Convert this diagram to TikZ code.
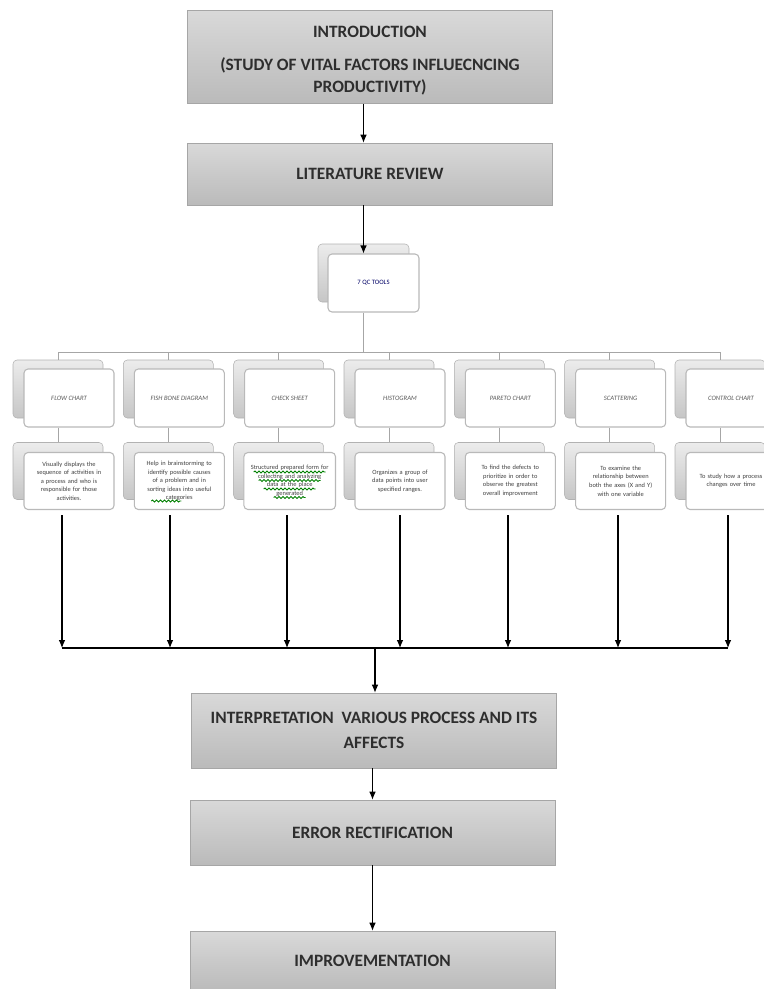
\documentclass[tikz,border=0pt]{standalone}
\usepackage{fontspec}
\setmainfont{Carlito}
\usetikzlibrary{arrows.meta,calc,decorations.pathmorphing}

\tikzset{
        mainbox/.style={draw=gray!70, top color=black!15, bottom color=black!27,
                minimum width=273.75pt, align=center, text=black!82,
                font=\fontsize{13}{16.5}\selectfont\bfseries},
        backbox/.style={draw=gray!60, rounded corners=3pt, top color=gray!15,
                bottom color=gray!45, minimum width=67.5pt, minimum height=43.5pt},
        toolbox/.style={draw=gray!55, line width=0.8pt, rounded corners=3pt, fill=white,
                minimum width=67.5pt, minimum height=43.5pt, text=black!65,
                font=\fontsize{5}{6}\selectfont\itshape},
        descbox/.style={draw=gray!55, line width=0.8pt, rounded corners=3pt, fill=white,
                minimum width=67.5pt, minimum height=42.75pt, text width=52pt, align=center,
                text=black!75, font=\fontsize{4.8}{6.4}\selectfont},
        branch/.style={draw=gray!70, line width=0.6pt},
        flow/.style={line width=0.8pt, -{Latex[length=6pt,width=5pt]}},
        squig/.style={draw=green!50!black, line width=0.7pt, decorate,
                decoration={snake, amplitude=0.7pt, segment length=3pt}}
}

\begin{document}
\begin{tikzpicture}[x=0.75pt, y=-0.75pt]
        \useasboundingbox (0, 0) rectangle (764, 989);
        \clip (0, 0) rectangle (764, 989);

        % main column
        \node[mainbox, minimum height=69.75pt] (intro) at (370, 57)
                {\rule{0pt}{13.5pt}INTRODUCTION\\[8pt](STUDY OF VITAL FACTORS INFLUECNCING\\PRODUCTIVITY)};
        \node[mainbox, minimum height=46.5pt] (lit) at (370, 174) {LITERATURE REVIEW};

        \node[backbox, minimum width=68.25pt] (qcback) at (363.5, 273) {};
        \node[toolbox, minimum width=68.25pt, font=\fontsize{5}{6}\selectfont, text=black!60!blue]
                (qc) at (373.5, 283) {7 QC TOOLS};

        \draw[flow] (intro.south -| qcback) -- (lit.north -| qcback);
        \draw[flow] (lit.south -| qcback) -- (qc.north -| qcback);

        % the seven tools
        \node[backbox] (tb1) at (58, 389) {};
        \node[backbox] (tb2) at (168.3, 389) {};
        \node[backbox] (tb3) at (278.7, 389) {};
        \node[backbox] (tb4) at (389, 389) {};
        \node[backbox] (tb5) at (499.3, 389) {};
        \node[backbox] (tb6) at (609.7, 389) {};
        \node[backbox] (tb7) at (720, 389) {};

        \node[toolbox] (t1) at (69, 398) {FLOW CHART};
        \node[toolbox] (t2) at (179.3, 398) {FISH BONE DIAGRAM};
        \node[toolbox] (t3) at (289.7, 398) {CHECK SHEET};
        \node[toolbox] (t4) at (400, 398) {HISTOGRAM};
        \node[toolbox] (t5) at (510.3, 398) {PARETO CHART};
        \node[toolbox] (t6) at (620.7, 398) {SCATTERING};
        \node[toolbox] (t7) at (731, 398) {CONTROL CHART};

        \coordinate (hub) at (363.5, 352);
        \draw[branch] (qc.south -| qcback) -- (hub);
        \draw[branch] (tb1.north) -- (tb1.north |- hub) -- (tb7.north |- hub) -- (tb7.north);
        \draw[branch] (tb2.north) -- (tb2.north |- hub);
        \draw[branch] (tb3.north) -- (tb3.north |- hub);
        \draw[branch] (tb4.north) -- (tb4.north |- hub);
        \draw[branch] (tb5.north) -- (tb5.north |- hub);
        \draw[branch] (tb6.north) -- (tb6.north |- hub);

        % descriptions
        \node[backbox, minimum height=42.75pt] (db1) at (58, 471) {};
        \node[backbox, minimum height=42.75pt] (db2) at (168.3, 471) {};
        \node[backbox, minimum height=42.75pt] (db3) at (278.7, 471) {};
        \node[backbox, minimum height=42.75pt] (db4) at (389, 471) {};
        \node[backbox, minimum height=42.75pt] (db5) at (499.3, 471) {};
        \node[backbox, minimum height=42.75pt] (db6) at (609.7, 471) {};
        \node[backbox, minimum height=42.75pt] (db7) at (720, 471) {};

        \draw[branch] (t1.south -| tb1) -- (db1.north);
        \draw[branch] (t2.south -| tb2) -- (db2.north);
        \draw[branch] (t3.south -| tb3) -- (db3.north);
        \draw[branch] (t4.south -| tb4) -- (db4.north);
        \draw[branch] (t5.south -| tb5) -- (db5.north);
        \draw[branch] (t6.south -| tb6) -- (db6.north);
        \draw[branch] (t7.south -| tb7) -- (db7.north);

        \node[descbox] (d1) at (69, 481)
                {Visually displays the\\sequence of activities in\\a process and who is\\responsible for those\\activities.};
        \node[descbox] (d2) at (179.3, 481)
                {Help in brainstorming to\\identify possible causes\\of a problem and in\\sorting ideas into useful\\categories};
        \node[descbox, text width=62pt] (d3) at (289.7, 481)
                {Structured prepared form for\\collecting and analyzing\\data at the place\\generated};
        \node[descbox] (d4) at (400, 481)
                {Organizes a group of\\data points into user\\specified ranges.};
        \node[descbox] (d5) at (510.3, 481)
                {To find the defects to\\prioritize in order to\\observe the greatest\\overall improvement};
        \node[descbox] (d6) at (620.7, 481)
                {To examine the\\relationship between\\both the axes (X and Y)\\with one variable};
        \node[descbox] (d7) at (731, 481)
                {To study how a process\\changes over time};

        % spelling marks
        \draw[squig] ($(d2)+(-28, 20)$) -- ++(30, 0);
        \draw[squig] ($(d3)+(-36, -9)$) -- ++(72, 0);
        \draw[squig] ($(d3)+(-31, -0.5)$) -- ++(62, 0);
        \draw[squig] ($(d3)+(-26, 8)$) -- ++(52, 0);
        \draw[squig] ($(d3)+(-16, 16.5)$) -- ++(32, 0);

        % collecting arrows
        \coordinate (a1) at (62, 648);
        \coordinate (a2) at (170, 648);
        \coordinate (a3) at (287, 648);
        \coordinate (a4) at (400, 648);
        \coordinate (a5) at (508, 648);
        \coordinate (a6) at (618, 648);
        \coordinate (a7) at (728, 648);
        \draw[flow, shorten <=4pt] (d1.south -| a1) -- (a1);
        \draw[flow, shorten <=4pt] (d2.south -| a2) -- (a2);
        \draw[flow, shorten <=4pt] (d3.south -| a3) -- (a3);
        \draw[flow, shorten <=4pt] (d4.south -| a4) -- (a4);
        \draw[flow, shorten <=4pt] (d5.south -| a5) -- (a5);
        \draw[flow, shorten <=4pt] (d6.south -| a6) -- (a6);
        \draw[flow, shorten <=4pt] (d7.south -| a7) -- (a7);
        \draw[line width=1.1pt] (a1) -- (a7);

        % lower column
        \node[mainbox, minimum height=56.25pt] (interp) at (374, 730.5)
                {INTERPRETATION\ \ VARIOUS PROCESS AND ITS\\[2pt]AFFECTS};
        \node[mainbox, minimum height=48.75pt] (err) at (372.5, 832.5) {ERROR RECTIFICATION};
        \node[mainbox, minimum height=45pt] (impr) at (372.5, 961) {IMPROVEMENTATION};

        \coordinate (join) at (375, 648);
        \draw[flow] (join) -- (interp.north -| join);
        \draw[flow] (interp.south -| err) -- (err.north);
        \draw[flow] (err.south) -- (impr.north);
\end{tikzpicture}
\end{document}
